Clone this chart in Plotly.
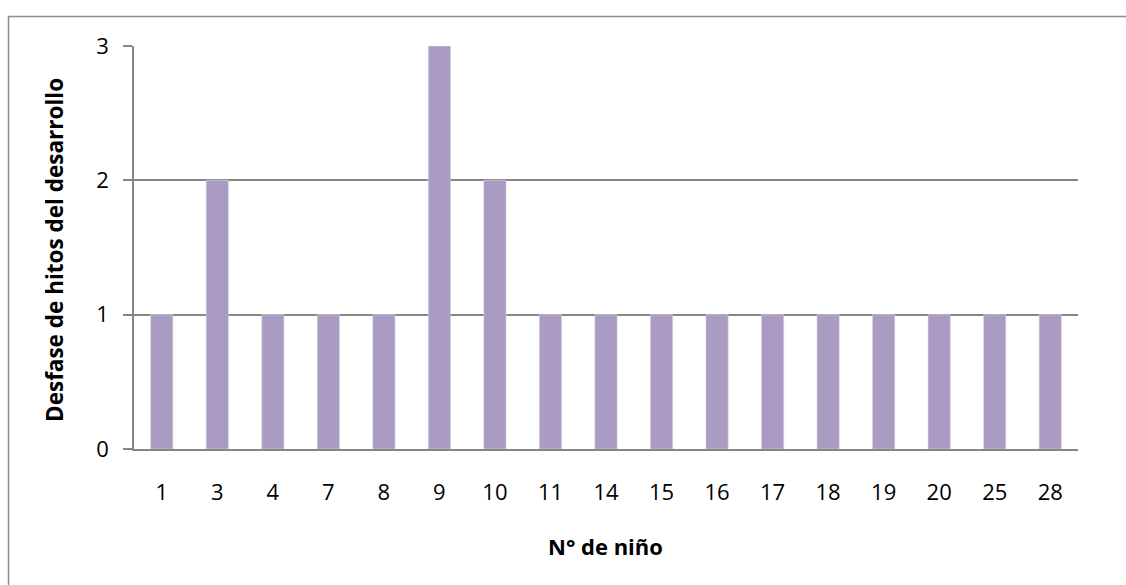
import plotly.graph_objects as go

# Data
children = ["1", "3", "4", "7", "8", "9", "10", "11", "14", "15", "16", "17", "18", "19", "20", "25", "28"]
desfase = [1, 2, 1, 1, 1, 3, 2, 1, 1, 1, 1, 1, 1, 1, 1, 1, 1]
y_ticks = [0, 1, 2, 3]
x_title = "N° de niño"
y_title = "Desfase de hitos del desarrollo"

W, H = 1126, 585
ML, MR, MT, MB = 134, 48, 46, 136
PW, PH = W - ML - MR, H - MT - MB

def px_x(p):
    return (p - ML) / PW

def px_y(p):
    return (H - MB - p) / PH

FONT = "Open Sans"
GRID = "#868686"

fig = go.Figure(
    go.Bar(
        x=children,
        y=desfase,
        marker=dict(color="#A99BC1", line=dict(color="#D9D3E3", width=0.6)),
        width=0.4,
    )
)

fig.update_layout(
    width=W,
    height=H,
    margin=dict(l=ML, r=MR, t=MT, b=MB),
    paper_bgcolor="white",
    plot_bgcolor="white",
    showlegend=False,
    font=dict(family=FONT, color="#000000"),
    xaxis=dict(
        type="category",
        showgrid=False,
        showline=True,
        linecolor=GRID,
        linewidth=1.5,
        ticks="outside",
        ticklen=23,
        tickcolor="rgba(0,0,0,0)",
        tickfont=dict(family=FONT, size=22, color="#000000"),
        zeroline=False,
    ),
    yaxis=dict(
        range=[0, 3],
        tickvals=y_ticks,
        showgrid=True,
        gridcolor=GRID,
        gridwidth=1.5,
        showline=True,
        linecolor=GRID,
        linewidth=1.5,
        ticks="outside",
        ticklen=9,
        tickwidth=1.5,
        tickcolor=GRID,
        ticklabelstandoff=10,
        tickfont=dict(family=FONT, size=22, color="#000000"),
        zeroline=False,
    ),
    annotations=[
        dict(
            text=x_title,
            xref="paper", yref="paper",
            x=px_x(605), y=px_y(546),
            xanchor="center", yanchor="middle",
            showarrow=False,
            font=dict(family=FONT, size=22, color="#000000", weight="bold"),
        ),
        dict(
            text=y_title,
            xref="paper", yref="paper",
            x=px_x(54), y=px_y(250),
            xanchor="center", yanchor="middle",
            textangle=-90,
            showarrow=False,
            font=dict(family=FONT, size=22.5, color="#000000", weight="bold"),
        ),
    ],
    shapes=[
        dict(
            type="rect",
            xref="paper", yref="paper",
            x0=px_x(8.5), x1=px_x(1140),
            y0=px_y(16.5), y1=px_y(600),
            line=dict(color="#8C8C8C", width=1.5),
            fillcolor="rgba(0,0,0,0)",
            layer="below",
        )
    ],
)

fig.write_html(
    "out.html",
    config={"displayModeBar": False},
    post_script="document.body.style.margin='0';document.body.style.overflow='hidden';",
)
